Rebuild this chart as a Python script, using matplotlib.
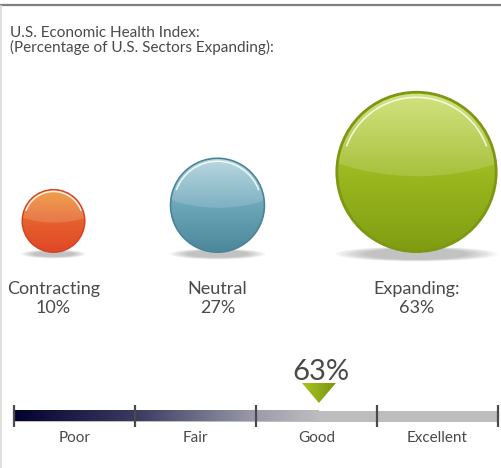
import numpy as np
import matplotlib
matplotlib.use("Agg")
import matplotlib.pyplot as plt
from matplotlib.colors import LinearSegmentedColormap
from matplotlib.patches import Circle, Ellipse, Arc, Polygon, Rectangle

plt.rcParams["font.family"] = ["Lato", "DejaVu Sans"]

# data
title_lines = ["U.S. Economic Health Index:", "(Percentage of U.S. Sectors Expanding):"]
categories = ["Contracting", "Neutral", "Expanding:"]
pct = [10, 27, 63]
scale_labels = ["Poor", "Fair", "Good", "Excellent"]
index_value = 63

# bubble looks (top, middle, bottom, edge)
bubble_colors = [
    ("#ec9530", "#e6622c", "#e04628", "#d2452a"),
    ("#b0d3de", "#6ca6b9", "#4c8699", "#4a8498"),
    ("#cde06e", "#9cb920", "#7f9c12", "#7c9812"),
]
centers_x = [53.5, 217.5, 416.5]
base_y = 253
TXT = "#4a4a4a"

W, H = 502, 468
fig = plt.figure(figsize=(W / 100, H / 100), dpi=100)
ax = fig.add_axes([0, 0, 1, 1])
ax.axis("off")


def radius(v):
    # linear size scale
    return 22.8 + 0.925 * v


def bubble(cx, r, cols):
    top, mid, bot, edge = cols
    cy = base_y - r
    # soft shadow
    for k in range(7):
        ax.add_patch(Ellipse((cx, base_y + 1), r * (2.0 - 0.12 * k), r * 0.12 + 5 - 0.6 * k,
                             fc="#555555", ec="none", alpha=0.06, zorder=1))
    ax.add_patch(Circle((cx, cy), r, fc=edge, ec="none", zorder=2))
    cmap = LinearSegmentedColormap.from_list("b", [top, mid, bot])
    grad = np.linspace(0, 1, 256).reshape(-1, 1)
    im = ax.imshow(grad, cmap=cmap, extent=(cx - r, cx + r, cy + r, cy - r),
                   origin="upper", aspect="auto", zorder=3, interpolation="bilinear")
    inner_r = r - max(1.5, r * 0.035)
    im.set_clip_path(Circle((cx, cy), inner_r, transform=ax.transData))
    # glossy upper half
    hl = Ellipse((cx + 0.1 * r, cy - 1.9 * r), 5.0 * r, 3.9 * r, angle=-4,
                 fc="white", ec="none", alpha=0.15, zorder=4)
    ax.add_patch(hl)
    hl.set_clip_path(Circle((cx, cy), inner_r, transform=ax.transData))
    ax.add_patch(Arc((cx, cy), 2 * r * 0.92, 2 * r * 0.92, theta1=200, theta2=340,
                     color="white", lw=1.1, alpha=0.85, zorder=5))


for cat, v, cx, cols in zip(categories, pct, centers_x, bubble_colors):
    bubble(cx, radius(v), cols)
    ax.text(cx, 294, cat, ha="center", va="baseline", fontsize=13, color=TXT)
    ax.text(cx, 313, f"{v}%", ha="center", va="baseline", fontsize=13, color=TXT)

# titles
ax.text(10, 37, title_lines[0], ha="left", va="baseline", fontsize=11, color=TXT)
ax.text(10, 52, title_lines[1], ha="left", va="baseline", fontsize=11, color=TXT)

# gauge bar
bx0, bx1 = 14, 498
by0, by1 = 410.5, 421.5


def gx(v):
    return bx0 + (bx1 - bx0) * v / 100.0


ax.add_patch(Rectangle((bx0, by0), bx1 - bx0, by1 - by0, fc="#bdbdbf", ec="none", zorder=2))
bar_cmap = LinearSegmentedColormap.from_list(
    "g", [(0, "#02022e"), (0.4, "#3a3a62"), (0.8, "#9d9dab"), (1, "#bdbdbf")])
ax.imshow(np.linspace(0, 1, 256).reshape(1, -1), cmap=bar_cmap,
          extent=(bx0, gx(index_value), by1, by0), origin="upper", aspect="auto", zorder=3)

n = len(scale_labels)
for i in range(n + 1):
    x = gx(100.0 * i / n)
    ax.plot([x, x], [405, 427], color="#4a4a4a", lw=1.6, solid_capstyle="butt", zorder=4)
for i, lab in enumerate(scale_labels):
    x = gx(100.0 * (i + 0.5) / n)
    ax.text(x, 442, lab, ha="center", va="baseline", fontsize=11, color=TXT)

# marker
mx = gx(index_value)
tri = Polygon([(mx - 17, 383), (mx + 17, 383), (mx, 403)], closed=True,
              fc="none", ec="none", zorder=5)
ax.add_patch(tri)
tri_cmap = LinearSegmentedColormap.from_list("t", ["#aac51e", "#7a9412"])
tim = ax.imshow(np.linspace(0, 1, 64).reshape(1, -1), cmap=tri_cmap,
                extent=(mx - 17, mx + 17, 403, 383), origin="upper", aspect="auto", zorder=5)
tim.set_clip_path(tri)
ax.text(mx + 2, 380, f"{index_value}%", ha="center", va="baseline", fontsize=21, color=TXT)

# frame lines
ax.plot([0, W], [5, 5], color="#7f7f7f", lw=1.6, zorder=6)
ax.plot([0.7, 0.7], [6, H], color="#dadada", lw=1.2, zorder=6)

ax.set_xlim(0, W)
ax.set_ylim(H, 0)
fig.savefig("out.png", dpi=100)
